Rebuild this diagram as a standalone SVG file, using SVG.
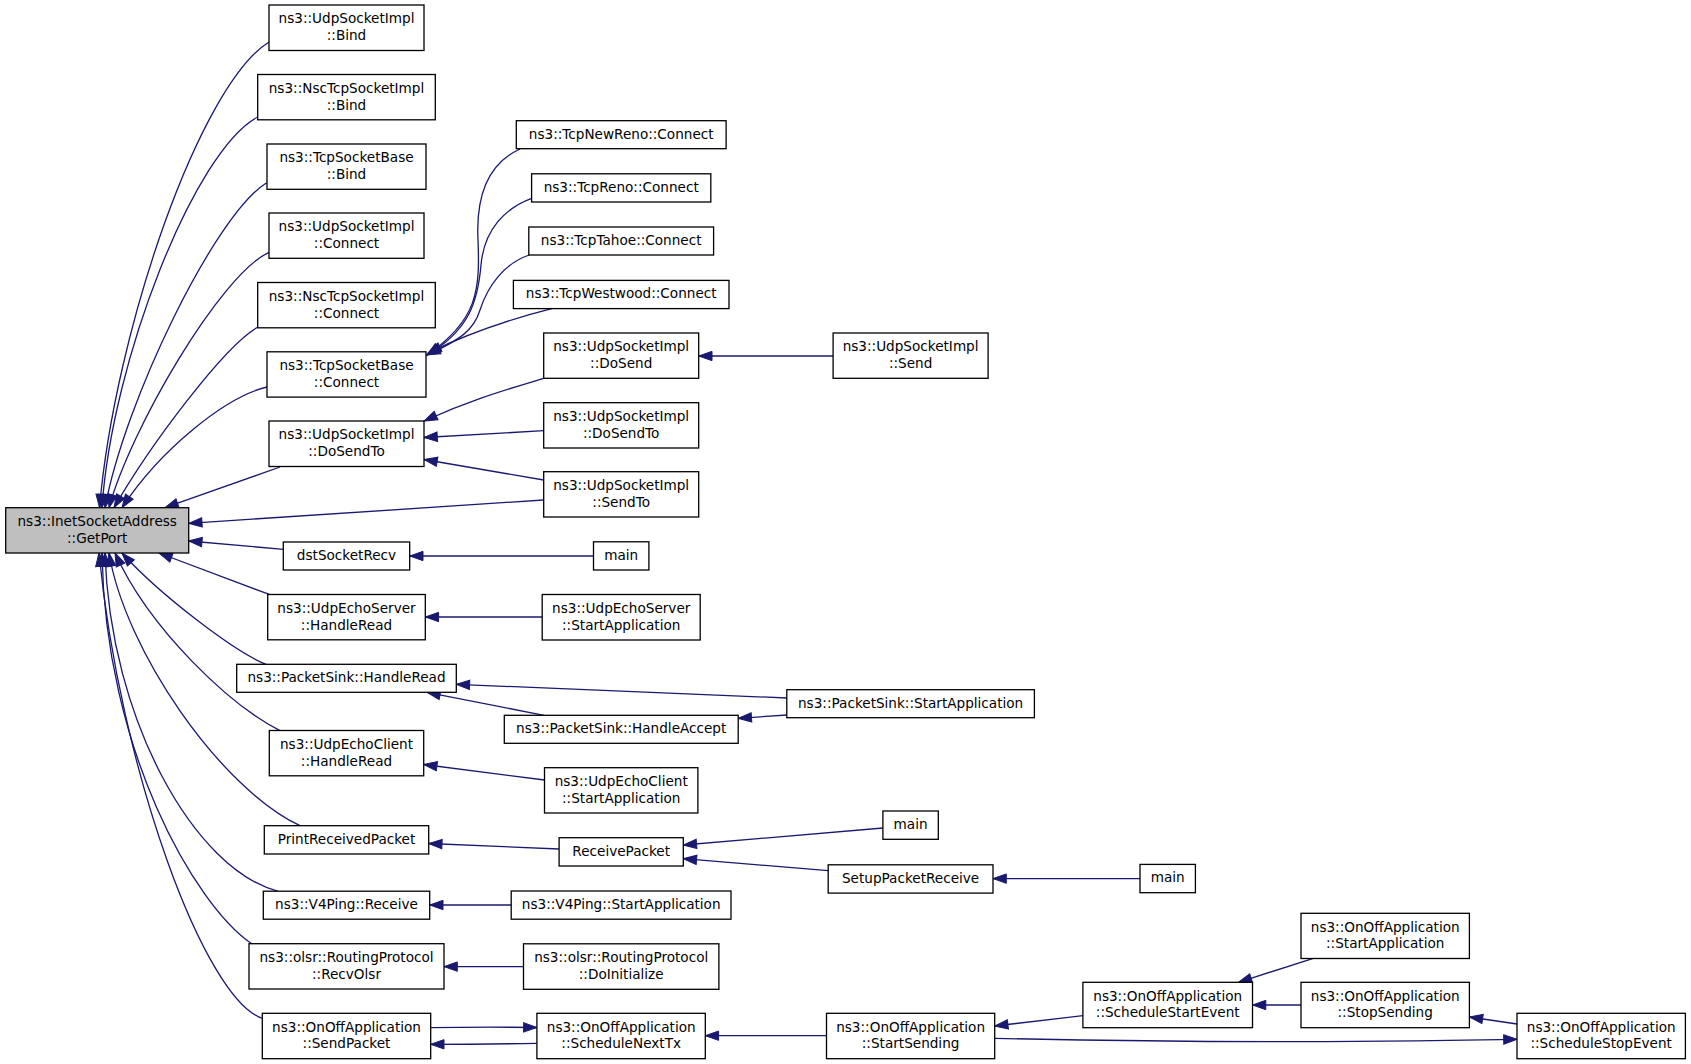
<svg xmlns="http://www.w3.org/2000/svg" width="1691" height="1064" viewBox="0 0 1691 1064">
<style>
.node rect{fill:#ffffff;stroke:#000000;stroke-width:1.3}
.node.hl rect{fill:#bfbfbf}
.node text{font-family:"DejaVu Sans","Liberation Sans",sans-serif;font-size:13.6px;text-anchor:middle;fill:#000000}
.edges path{fill:none;stroke:#191970;stroke-width:1.3;marker-end:url(#ah)}
</style>
<defs>
<marker id="ah" markerUnits="userSpaceOnUse" markerWidth="14" markerHeight="10" refX="13.3" refY="4.67" orient="auto" overflow="visible">
<path d="M0,0 L13.3,4.67 L0,9.33 Z" fill="#191970" stroke="#191970" stroke-width="1"/>
</marker>
</defs>
<rect x="0" y="0" width="1691" height="1064" fill="#ffffff"/>
<g id="connectors" class="edges">
<path d="M269,42 C200,85 115,330 99.5,507.7"/>
<path d="M257.7,117 C195,150 112,360 102,507.7"/>
<path d="M266.7,182.7 C215,215 125,400 105,507.7"/>
<path d="M269,252.3 C220,275 130,430 109,507.7"/>
<path d="M258,327 C225,345 150,445 114,507.7"/>
<path d="M267,387 C225,397 160,450 122,507.7"/>
<path d="M280,467 L165,507.7"/>
<path d="M543.7,500 L188.7,523.3"/>
<path d="M283.3,549.3 L188.7,541"/>
<path d="M270,594.7 L159,553"/>
<path d="M266,664.3 C235,652 160,595 122,553"/>
<path d="M280,730.7 C230,705 150,630 115,553"/>
<path d="M300,825.7 C220,788 125,650 109,553"/>
<path d="M278.3,891.3 C195,870 110,720 105,553"/>
<path d="M251.7,943.7 C195,905 105,750 102,553"/>
<path d="M262.3,1018.3 C205,1000 120,770 99,553"/>
<path d="M520,149 C485,165 476,200 478,240 C480,290 478,320 427,355"/>
<path d="M531.7,198.3 C505,208 484,230 481,265 C478,300 470,330 427,355"/>
<path d="M529.3,255 C505,263 488,285 480,310 C474,330 460,340 427,355"/>
<path d="M551.7,308.7 C515,318 475,330 428,353"/>
<path d="M543.7,378.3 C505,390 470,400 424,421"/>
<path d="M543.7,430.7 L424,437.5"/>
<path d="M543.7,480 L424,459.5"/>
<path d="M833.1,356 L698.7,356"/>
<path d="M593.5,556 L409.7,556"/>
<path d="M542.2,617 L425.3,617"/>
<path d="M786.8,698 L456.3,684.3"/>
<path d="M544,715.3 L427,692.3"/>
<path d="M786.8,715 L738.2,718.3"/>
<path d="M544.5,780 L423.7,764.5"/>
<path d="M559.1,849 L428.7,843.5"/>
<path d="M882.9,828 L683.3,845"/>
<path d="M828.2,870.6 L683.3,858.7"/>
<path d="M1140,878.6 L993,878.6"/>
<path d="M511.2,905 L429.7,905"/>
<path d="M523.5,966.6 L444,966.6"/>
<path d="M430.7,1027.7 C470,1027 500,1027 536.9,1027.5"/>
<path d="M536.9,1043.3 C500,1044 470,1044.3 430.7,1044.3"/>
<path d="M826.5,1035.7 L705.3,1035.7"/>
<path d="M1082.9,1015.7 L994.7,1026"/>
<path d="M994.7,1038.3 C1200,1043 1350,1042 1517,1039.3"/>
<path d="M1313.3,958.3 L1238.5,982.3"/>
<path d="M1301,1005 L1252.5,1005"/>
<path d="M1517,1024 L1469.4,1017"/>
</g>
<g id="n_getport" class="node hl"><rect x="5.7" y="507.7" width="183" height="45.3"/><text x="97.2" y="526.1">ns3::InetSocketAddress</text><text x="97.2" y="542.8">::GetPort</text></g>
<g id="n1" class="node"><rect x="269" y="5" width="155" height="45.5"/><text x="346.5" y="23.4">ns3::UdpSocketImpl</text><text x="346.5" y="40.1">::Bind</text></g>
<g id="n2" class="node"><rect x="257.7" y="74.5" width="177.6" height="45.3"/><text x="346.5" y="92.9">ns3::NscTcpSocketImpl</text><text x="346.5" y="109.6">::Bind</text></g>
<g id="n3" class="node"><rect x="267" y="144" width="159" height="45.3"/><text x="346.5" y="162.4">ns3::TcpSocketBase</text><text x="346.5" y="179.1">::Bind</text></g>
<g id="n4" class="node"><rect x="269" y="213" width="155" height="45.3"/><text x="346.5" y="231.4">ns3::UdpSocketImpl</text><text x="346.5" y="248.1">::Connect</text></g>
<g id="n5" class="node"><rect x="257.7" y="282.5" width="177.6" height="45.3"/><text x="346.5" y="300.9">ns3::NscTcpSocketImpl</text><text x="346.5" y="317.6">::Connect</text></g>
<g id="n6" class="node"><rect x="267" y="351.8" width="159" height="45.3"/><text x="346.5" y="370.2">ns3::TcpSocketBase</text><text x="346.5" y="386.9">::Connect</text></g>
<g id="n7" class="node"><rect x="269" y="421" width="155" height="45.5"/><text x="346.5" y="439.4">ns3::UdpSocketImpl</text><text x="346.5" y="456.1">::DoSendTo</text></g>
<g id="n8" class="node"><rect x="283.3" y="542" width="126.4" height="28"/><text x="346.5" y="560">dstSocketRecv</text></g>
<g id="n9" class="node"><rect x="267.7" y="594.5" width="157.6" height="45.3"/><text x="346.5" y="612.9">ns3::UdpEchoServer</text><text x="346.5" y="629.6">::HandleRead</text></g>
<g id="n10" class="node"><rect x="236.7" y="664.3" width="219.6" height="28"/><text x="346.5" y="682.3">ns3::PacketSink::HandleRead</text></g>
<g id="n11" class="node"><rect x="269.3" y="730.5" width="154.4" height="45.3"/><text x="346.5" y="748.9">ns3::UdpEchoClient</text><text x="346.5" y="765.6">::HandleRead</text></g>
<g id="n12" class="node"><rect x="264.3" y="825.7" width="164.4" height="28.3"/><text x="346.5" y="843.7">PrintReceivedPacket</text></g>
<g id="n13" class="node"><rect x="263.3" y="891.2" width="166.4" height="28"/><text x="346.5" y="909.2">ns3::V4Ping::Receive</text></g>
<g id="n14" class="node"><rect x="249" y="943.7" width="195" height="45.3"/><text x="346.5" y="962.1">ns3::olsr::RoutingProtocol</text><text x="346.5" y="978.8">::RecvOlsr</text></g>
<g id="n15" class="node"><rect x="262.3" y="1013.3" width="168.4" height="45.4"/><text x="346.5" y="1031.7">ns3::OnOffApplication</text><text x="346.5" y="1048.4">::SendPacket</text></g>
<g id="m1" class="node"><rect x="516.3" y="120.7" width="209.8" height="28"/><text x="621.2" y="138.7">ns3::TcpNewReno::Connect</text></g>
<g id="m2" class="node"><rect x="531.6" y="173.8" width="179.2" height="28.2"/><text x="621.2" y="191.8">ns3::TcpReno::Connect</text></g>
<g id="m3" class="node"><rect x="528.8" y="227" width="184.8" height="28"/><text x="621.2" y="245">ns3::TcpTahoe::Connect</text></g>
<g id="m4" class="node"><rect x="513.4" y="280.4" width="215.6" height="28.2"/><text x="621.2" y="298.4">ns3::TcpWestwood::Connect</text></g>
<g id="m5" class="node"><rect x="543.7" y="333" width="155" height="45.3"/><text x="621.2" y="351.4">ns3::UdpSocketImpl</text><text x="621.2" y="368.1">::DoSend</text></g>
<g id="m6" class="node"><rect x="543.7" y="402.7" width="155" height="45.3"/><text x="621.2" y="421.1">ns3::UdpSocketImpl</text><text x="621.2" y="437.8">::DoSendTo</text></g>
<g id="m7" class="node"><rect x="543.7" y="471.7" width="155" height="45.3"/><text x="621.2" y="490.1">ns3::UdpSocketImpl</text><text x="621.2" y="506.8">::SendTo</text></g>
<g id="m8" class="node"><rect x="593.5" y="541.8" width="55.4" height="28.2"/><text x="621.2" y="559.8">main</text></g>
<g id="m9" class="node"><rect x="542.2" y="594.5" width="158" height="45.5"/><text x="621.2" y="612.9">ns3::UdpEchoServer</text><text x="621.2" y="629.6">::StartApplication</text></g>
<g id="m10" class="node"><rect x="504.3" y="715.3" width="233.9" height="28"/><text x="621.2" y="733.3">ns3::PacketSink::HandleAccept</text></g>
<g id="m11" class="node"><rect x="544.5" y="767.7" width="153.4" height="45.3"/><text x="621.2" y="786.1">ns3::UdpEchoClient</text><text x="621.2" y="802.8">::StartApplication</text></g>
<g id="m12" class="node"><rect x="559.1" y="837.7" width="124.2" height="28.3"/><text x="621.2" y="855.7">ReceivePacket</text></g>
<g id="m13" class="node"><rect x="511.2" y="891" width="219.8" height="28.2"/><text x="621.2" y="909">ns3::V4Ping::StartApplication</text></g>
<g id="m14" class="node"><rect x="523.5" y="943.8" width="195.4" height="45.5"/><text x="621.2" y="962.2">ns3::olsr::RoutingProtocol</text><text x="621.2" y="978.9">::DoInitialize</text></g>
<g id="m15" class="node"><rect x="536.9" y="1013.3" width="168.4" height="45.4"/><text x="621.2" y="1031.7">ns3::OnOffApplication</text><text x="621.2" y="1048.4">::ScheduleNextTx</text></g>
<g id="r1" class="node"><rect x="833.1" y="333" width="155" height="45.3"/><text x="910.6" y="351.4">ns3::UdpSocketImpl</text><text x="910.6" y="368.1">::Send</text></g>
<g id="r2" class="node"><rect x="786.8" y="689.7" width="247.6" height="28"/><text x="910.6" y="707.7">ns3::PacketSink::StartApplication</text></g>
<g id="r3" class="node"><rect x="882.9" y="811" width="55.4" height="28.3"/><text x="910.6" y="829">main</text></g>
<g id="r4" class="node"><rect x="828.2" y="864.8" width="164.8" height="28.3"/><text x="910.6" y="882.8">SetupPacketReceive</text></g>
<g id="r5" class="node"><rect x="826.5" y="1013.3" width="168.2" height="45.4"/><text x="910.6" y="1031.7">ns3::OnOffApplication</text><text x="910.6" y="1048.4">::StartSending</text></g>
<g id="c1" class="node"><rect x="1140" y="864.4" width="55.4" height="28.3"/><text x="1167.7" y="882.4">main</text></g>
<g id="c2" class="node"><rect x="1082.9" y="982.3" width="169.6" height="45.4"/><text x="1167.7" y="1000.7">ns3::OnOffApplication</text><text x="1167.7" y="1017.4">::ScheduleStartEvent</text></g>
<g id="d1" class="node"><rect x="1301" y="913.3" width="168.4" height="45.2"/><text x="1385.2" y="931.7">ns3::OnOffApplication</text><text x="1385.2" y="948.4">::StartApplication</text></g>
<g id="d2" class="node"><rect x="1301" y="982.3" width="168.4" height="45.4"/><text x="1385.2" y="1000.7">ns3::OnOffApplication</text><text x="1385.2" y="1017.4">::StopSending</text></g>
<g id="f1" class="node"><rect x="1517" y="1013.3" width="168.4" height="45.4"/><text x="1601.2" y="1031.7">ns3::OnOffApplication</text><text x="1601.2" y="1048.4">::ScheduleStopEvent</text></g>
</svg>
